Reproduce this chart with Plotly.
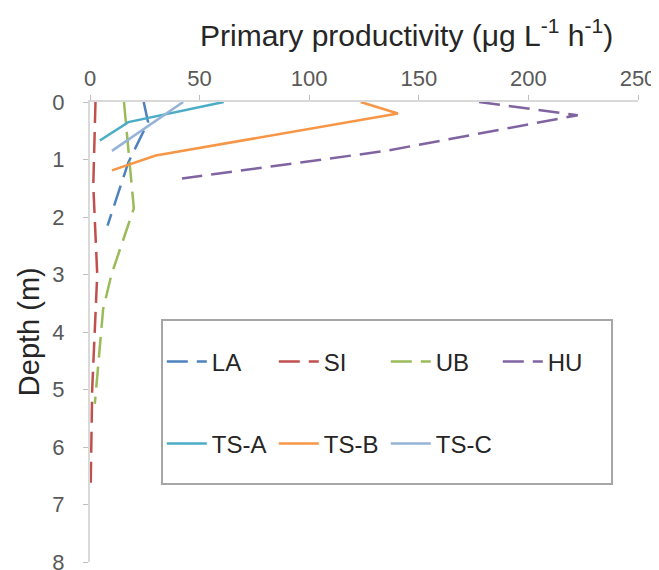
import plotly.graph_objects as go

# ---- data ----
series_names = ["LA", "SI", "UB", "HU", "TS-A", "TS-B", "TS-C"]

LA_depth = [0, 0.35, 1.05, 2.15]
LA_pp = [24.5, 26.5, 17.5, 8]

SI_depth = [0, 1.45, 3.0, 5.0, 6.7]
SI_pp = [2.5, 1.5, 3.3, 1.0, 0.3]

UB_depth = [0, 1.85, 3.0, 3.6, 5.25]
UB_pp = [15.5, 20, 9.8, 6, 2.2]

HU_depth = [0, 0.23, 0.85, 1.33]
HU_pp = [177.5, 222.5, 135, 42]

TSA_depth = [0, 0.35, 0.67]
TSA_pp = [61, 17.5, 4.5]

TSB_depth = [0, 0.2, 0.93, 1.19]
TSB_pp = [123.5, 140.5, 30, 10]

TSC_depth = [0, 0.85]
TSC_pp = [42.5, 10]

x_ticks = [0, 50, 100, 150, 200, 250]
y_ticks = [0, 1, 2, 3, 4, 5, 6, 7, 8]

# ---- styles ----
colors = ["#4F81BD", "#C0504D", "#9BBB59", "#8064A2", "#4BACC6", "#F79646", "#95B3D7"]
dashed = "21px,9px"
styles = [dashed, dashed, dashed, dashed, "solid", "solid", "solid"]
legends = ["legend", "legend", "legend", "legend", "legend2", "legend2", "legend2"]
xs = [LA_pp, SI_pp, UB_pp, HU_pp, TSA_pp, TSB_pp, TSC_pp]
ys = [LA_depth, SI_depth, UB_depth, HU_depth, TSA_depth, TSB_depth, TSC_depth]

FONT = "Liberation Sans, Arial, sans-serif"

fig = go.Figure()
for name, x, y, c, d, lg in zip(series_names, xs, ys, colors, styles, legends):
    fig.add_trace(go.Scatter(
        x=x, y=y, mode="lines", name=name,
        line=dict(color=c, width=2.5, dash=d),
        legend=lg,
    ))

axis_common = dict(
    showgrid=False, zeroline=False, automargin=False,
    showline=True, linecolor="#D9D9D9", linewidth=2,
    ticks="outside", ticklen=5, tickcolor="#BFBFBF", tickwidth=1,
    tickfont=dict(family=FONT, size=22, color="#595959"),
    ticklabeloverflow="allow",
)

legend_common = dict(
    orientation="h", x=0.131, xanchor="left", yanchor="middle",
    itemwidth=40, entrywidth=57, entrywidthmode="pixels",
    bgcolor="rgba(0,0,0,0)", font=dict(family=FONT, size=24, color="#262626"),
)

fig.update_layout(
    width=651, height=562,
    margin=dict(l=82, r=21, t=94, b=8, autoexpand=False),
    paper_bgcolor="white", plot_bgcolor="white",
    font=dict(family=FONT),
    xaxis=dict(side="top", range=[0, 250], tickvals=x_ticks, **axis_common),
    yaxis=dict(range=[8, 0], tickvals=y_ticks, ticklabelstandoff=14, **axis_common),
    legend=dict(y=0.435, **legend_common),
    legend2=dict(y=0.2565, **legend_common),
    shapes=[dict(
        type="rect", xref="paper", yref="paper",
        x0=0.1314, x1=0.9526, y0=0.1696, y1=0.526,
        line=dict(color="#A6A6A6", width=2), fillcolor="rgba(0,0,0,0)", layer="below",
    )],
    annotations=[
        dict(
            text="Primary productivity (μg L<sup>-1</sup> h<sup>-1</sup>)",
            xref="paper", yref="paper", x=0.577, y=1.15,
            xanchor="center", yanchor="middle", showarrow=False,
            font=dict(family=FONT, size=30, color="#262626"),
        ),
        dict(
            text="Depth (m)", textangle=-90,
            xref="paper", yref="paper", x=-0.111, y=0.5,
            xanchor="center", yanchor="middle", showarrow=False,
            font=dict(family=FONT, size=29, color="#262626"),
        ),
    ],
    showlegend=True,
)

fig.write_html("out.html")
